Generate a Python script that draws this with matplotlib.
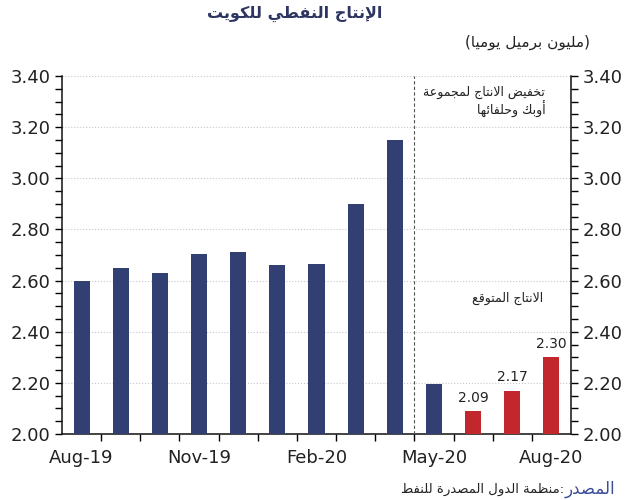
import numpy as np
import matplotlib
matplotlib.use("Agg")
import matplotlib.pyplot as plt

# Arabic presentation forms (matplotlib does no shaping, so do it by hand)
LETTERS = 'ءآأؤإئابةتثجحخدذرزسشصضطظعغفقكلمنهوىي'
NFORMS = [1, 2, 2, 2, 2, 4, 2, 4, 2, 4, 4, 4, 4, 4, 2, 2, 2, 2, 4, 4, 4, 4, 4, 4, 4, 4, 4, 4, 4, 4, 4, 4, 4, 2, 2, 4]
FORMS = {}
code = 0xFE80
for ch, n in zip(LETTERS, NFORMS):
    FORMS[ch] = (code, n)
    code += n
LAM_ALEF = {'آ': 0xFEF5, 'أ': 0xFEF7, 'إ': 0xFEF9, 'ا': 0xFEFB}


def ar(text):
    chars = list(text)
    out = []
    i = 0
    while i < len(chars):
        ch = chars[i]
        prev = chars[i - 1] if i > 0 else ''
        joins_prev = prev in FORMS and FORMS[prev][1] == 4
        if ch == 'ل' and i + 1 < len(chars) and chars[i + 1] in LAM_ALEF:
            out.append(chr(LAM_ALEF[chars[i + 1]] + (1 if joins_prev else 0)))
            i += 2
            continue
        if ch in FORMS:
            base, n = FORMS[ch]
            nxt = chars[i + 1] if i + 1 < len(chars) else ''
            joins_next = n == 4 and nxt in FORMS
            if n == 1:
                form = 0
            elif joins_prev and joins_next:
                form = 3
            elif joins_prev:
                form = 1
            elif joins_next:
                form = 2
            else:
                form = 0
            out.append(chr(base + form))
        else:
            out.append(ch)
        i += 1
    return ''.join(reversed(out))


# data
months = ['Aug-19', 'Sep-19', 'Oct-19', 'Nov-19', 'Dec-19', 'Jan-20', 'Feb-20',
          'Mar-20', 'Apr-20', 'May-20', 'Jun-20', 'Jul-20', 'Aug-20']
actual = [2.60, 2.65, 2.63, 2.705, 2.71, 2.66, 2.665, 2.90, 3.15, 2.195]
expected_months = ['Jun-20', 'Jul-20', 'Aug-20']
expected = [2.09, 2.17, 2.30]
shown_labels = ['Aug-19', 'Nov-19', 'Feb-20', 'May-20', 'Aug-20']

AR = ['DejaVu Sans']
navy = '#323f72'
red = '#c1272d'
txt = '#222222'

plt.rcParams['font.family'] = ['DejaVu Sans']

fig = plt.figure(figsize=(6.29, 5.00), dpi=100)
ax = fig.add_axes([0.0986, 0.132, 0.8092, 0.716])

x = np.arange(len(months))
ax.bar(x[:len(actual)], actual, width=0.41, color=navy, zorder=3)
xe = [months.index(m) for m in expected_months]
ax.bar(xe, expected, width=0.41, color=red, zorder=3)
for xi, v in zip(xe, expected):
    ax.text(xi, v + 0.025, f'{v:.2f}', ha='center', va='bottom', fontsize=10, color=txt)

ax.set_xlim(-0.5, len(months) - 0.5)
ax.set_ylim(2.0, 3.4)

# x axis: labels at bar centres, tick marks at month boundaries
ax.set_xticks([months.index(m) for m in shown_labels])
ax.set_xticklabels(shown_labels, fontsize=13, color=txt)
ax.set_xticks(np.arange(0.5, len(months) - 0.5, 1.0), minor=True)
ax.tick_params(axis='x', which='major', length=0, pad=11)
ax.tick_params(axis='x', which='minor', length=5, width=1, direction='out')

yt = np.arange(2.0, 3.41, 0.2)
ax.set_yticks(yt)
ax.set_yticklabels([f'{v:.2f}' for v in yt])
ax.set_yticks(np.arange(2.0, 3.41, 0.05), minor=True)
ax.tick_params(axis='y', which='both', left=True, right=True, labelleft=True, labelright=True,
               direction='out', length=5, width=1, labelsize=13, labelcolor=txt)

ax.grid(axis='y', which='major', linestyle=':', color='#c8c8c8', linewidth=0.8, zorder=0)
ax.spines['top'].set_visible(False)
for s in ['left', 'right', 'bottom']:
    ax.spines[s].set_linewidth(1.1)
    ax.spines[s].set_color('#111111')

# cut-off line between actual and expected
ax.axvline(8.5, color='#555555', linestyle=(0, (3, 2)), linewidth=0.8, zorder=4)

ax.text(11.84, 3.334, ar('تخفيض الانتاج لمجموعة'), ha='right', va='center',
        fontsize=9, color=txt, family=AR)
ax.text(11.84, 3.268, ar('أوبك وحلفائها'), ha='right', va='center',
        fontsize=9, color=txt, family=AR)
ax.text(10.87, 2.532, ar('الانتاج المتوقع'), ha='center', va='center',
        fontsize=9, color=txt, family=AR)

fig.text(0.469, 0.972, ar('الإنتاج النفطي للكويت'), ha='center', va='center',
         fontsize=11.5, fontweight='bold', color='#2d3561', family=AR)
fig.text(0.938, 0.916, '(' + ar('مليون برميل يوميا') + ')', ha='right', va='center',
         fontsize=11, color=txt, family=AR)

fig.text(0.897, 0.022, ar('المصدر'), ha='left', va='center', fontsize=12,
         color='#3a4c9a', family=AR)
fig.text(0.897, 0.022, ar('منظمة الدول المصدرة للنفط') + ':', ha='right', va='center',
         fontsize=9.5, color=txt, family=AR)

fig.savefig('out.png', dpi=100)
